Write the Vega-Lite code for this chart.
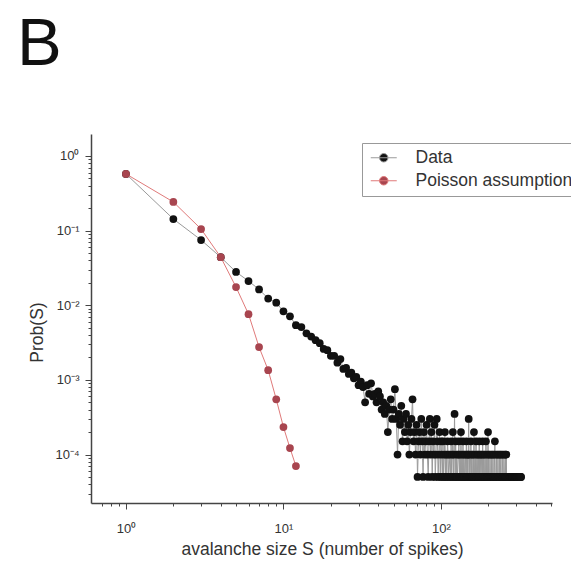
{
"$schema": "https://vega.github.io/schema/vega-lite/v6.json",
"width": 461,
"height": 369,
"autosize": {"type": "none"},
"padding": {"left": 91, "top": 134, "right": 19, "bottom": 61},
"background": "white",
"config": {"view": {"stroke": null}},
"title": {"text": "B", "anchor": "start", "frame": "group", "fontSize": 67, "font": "Liberation Sans", "fontWeight": "normal", "color": "#111111", "dx": -74, "offset": 2, "baseline": "alphabetic"},
"datasets": {
"data": [
{"S":1,"P":0.575},{"S":2,"P":0.143},{"S":3,"P":0.0748},{"S":4,"P":0.044},{"S":5,"P":0.0279},{"S":6,"P":0.0211},{"S":7,"P":0.0163},{"S":8,"P":0.0123},{"S":9,"P":0.0108},{"S":10,"P":0.0083},
{"S":11,"P":0.0071},{"S":12,"P":0.0054},{"S":13,"P":0.0051},{"S":14,"P":0.0042},{"S":15,"P":0.0038},{"S":16,"P":0.0034},{"S":17,"P":0.0031},{"S":18,"P":0.0026},{"S":19,"P":0.0025},{"S":20,"P":0.0021},
{"S":21,"P":0.0021},{"S":22,"P":0.0017},{"S":23,"P":0.0019},{"S":24,"P":0.0014},{"S":25,"P":0.00145},{"S":26,"P":0.0012},{"S":27,"P":0.00125},{"S":28,"P":0.00105},{"S":29,"P":0.0011},{"S":30,"P":0.00085},
{"S":31,"P":0.00095},{"S":32,"P":0.0008},{"S":33,"P":0.0005},{"S":34,"P":0.00085},{"S":35,"P":0.00065},{"S":36,"P":0.0009},{"S":37,"P":0.0006},{"S":38,"P":0.00065},{"S":39,"P":0.0005},{"S":40,"P":0.0007},
{"S":41,"P":0.0006},{"S":42,"P":0.0004},{"S":43,"P":0.0005},{"S":44,"P":0.00035},{"S":45,"P":0.00045},{"S":46,"P":0.0002},{"S":47,"P":0.0004},{"S":48,"P":0.00055},{"S":49,"P":0.0003},{"S":50,"P":0.0004},
{"S":51,"P":0.00075},{"S":52,"P":0.0003},{"S":53,"P":0.0001},{"S":54,"P":0.00035},{"S":55,"P":0.00025},{"S":56,"P":0.00045},{"S":57,"P":0.00015},{"S":58,"P":0.0003},{"S":59,"P":0.0002},{"S":60,"P":0.00035},
{"S":61,"P":0.00015},{"S":62,"P":0.00025},{"S":63,"P":0.0001},{"S":64,"P":0.0002},{"S":65,"P":0.0003},{"S":66,"P":0.00055},{"S":67,"P":0.00015},{"S":68,"P":0.0002},{"S":69,"P":0.0001},{"S":70,"P":0.00025},
{"S":71,"P":0.00005},{"S":72,"P":0.00015},{"S":73,"P":0.0002},{"S":74,"P":0.0001},{"S":75,"P":0.0003},{"S":76,"P":0.00015},{"S":77,"P":0.00005},{"S":78,"P":0.0002},{"S":79,"P":0.0001},{"S":80,"P":0.00015},
{"S":81,"P":0.00025},{"S":82,"P":0.0001},{"S":83,"P":0.00005},{"S":84,"P":0.00015},{"S":85,"P":0.0003},{"S":86,"P":0.0001},{"S":87,"P":0.0002},{"S":88,"P":0.00005},{"S":89,"P":0.00015},{"S":90,"P":0.0001},
{"S":91,"P":0.00025},{"S":92,"P":0.00005},{"S":93,"P":0.0001},{"S":94,"P":0.0003},{"S":95,"P":0.00015},{"S":96,"P":0.00005},{"S":97,"P":0.0001},{"S":98,"P":0.0002},{"S":99,"P":0.00005},{"S":100,"P":0.00015},
{"S":101,"P":0.0001},{"S":102,"P":0.00005},{"S":103,"P":0.00015},{"S":104,"P":0.00005},{"S":105,"P":0.0001},{"S":106,"P":0.0002},{"S":107,"P":0.00005},{"S":108,"P":0.0001},{"S":109,"P":0.00005},{"S":110,"P":0.00015},
{"S":111,"P":0.0001},{"S":112,"P":0.00005},{"S":114,"P":0.0001},{"S":115,"P":0.00005},{"S":116,"P":0.00015},{"S":117,"P":0.00005},{"S":118,"P":0.0001},{"S":119,"P":0.0002},{"S":120,"P":0.00005},
{"S":121,"P":0.0001},{"S":122,"P":0.00035},{"S":123,"P":0.00005},{"S":124,"P":0.00015},{"S":125,"P":0.00005},{"S":126,"P":0.0001},{"S":127,"P":0.00005},{"S":129,"P":0.0001},{"S":130,"P":0.00015},
{"S":131,"P":0.00005},{"S":132,"P":0.0001},{"S":133,"P":0.00005},{"S":134,"P":0.0002},{"S":135,"P":0.00005},{"S":136,"P":0.0001},{"S":137,"P":0.00005},{"S":138,"P":0.00015},{"S":139,"P":0.00005},{"S":140,"P":0.0001},
{"S":141,"P":0.00005},{"S":143,"P":0.0001},{"S":144,"P":0.00005},{"S":145,"P":0.00015},{"S":146,"P":0.00005},{"S":147,"P":0.0001},{"S":148,"P":0.00005},{"S":149,"P":0.0001},{"S":150,"P":0.0003},
{"S":151,"P":0.00005},{"S":152,"P":0.0001},{"S":153,"P":0.00005},{"S":155,"P":0.00015},{"S":156,"P":0.00005},{"S":157,"P":0.0001},{"S":158,"P":0.00005},{"S":159,"P":0.00005},{"S":160,"P":0.0001},
{"S":161,"P":0.00005},{"S":162,"P":0.0002},{"S":163,"P":0.00005},{"S":165,"P":0.0001},{"S":166,"P":0.00005},{"S":167,"P":0.00015},{"S":168,"P":0.00005},{"S":170,"P":0.0001},
{"S":171,"P":0.00005},{"S":172,"P":0.00005},{"S":173,"P":0.0001},{"S":174,"P":0.00005},{"S":175,"P":0.00015},{"S":176,"P":0.00005},{"S":178,"P":0.0001},{"S":179,"P":0.00005},{"S":180,"P":0.00005},
{"S":181,"P":0.0001},{"S":183,"P":0.00005},{"S":184,"P":0.00015},{"S":185,"P":0.00005},{"S":186,"P":0.0001},{"S":187,"P":0.00005},{"S":189,"P":0.00005},{"S":190,"P":0.0001},
{"S":191,"P":0.00005},{"S":192,"P":0.00005},{"S":193,"P":0.00015},{"S":195,"P":0.00005},{"S":196,"P":0.0001},{"S":197,"P":0.00005},{"S":198,"P":0.00005},{"S":199,"P":0.0002},{"S":200,"P":0.00005},
{"S":201,"P":0.0001},{"S":202,"P":0.00005},{"S":204,"P":0.00005},{"S":205,"P":0.0001},{"S":206,"P":0.00005},{"S":208,"P":0.00005},{"S":209,"P":0.00005},{"S":210,"P":0.0001},
{"S":211,"P":0.00005},{"S":213,"P":0.00005},{"S":214,"P":0.0001},{"S":215,"P":0.00005},{"S":216,"P":0.00005},{"S":218,"P":0.00005},{"S":219,"P":0.0001},{"S":220,"P":0.00015},
{"S":221,"P":0.00005},{"S":223,"P":0.00005},{"S":224,"P":0.00005},{"S":225,"P":0.0001},{"S":226,"P":0.00005},{"S":229,"P":0.00005},{"S":230,"P":0.0001},
{"S":231,"P":0.00005},{"S":233,"P":0.00005},{"S":234,"P":0.00005},{"S":235,"P":0.0001},{"S":236,"P":0.00005},{"S":238,"P":0.00005},{"S":240,"P":0.0001},
{"S":241,"P":0.00005},{"S":242,"P":0.00005},{"S":244,"P":0.00005},{"S":245,"P":0.0001},{"S":247,"P":0.00005},{"S":248,"P":0.00005},{"S":250,"P":0.00005},
{"S":251,"P":0.0001},{"S":253,"P":0.00005},{"S":254,"P":0.00005},{"S":256,"P":0.00005},{"S":257,"P":0.0001},{"S":258,"P":0.00005},{"S":260,"P":0.0001},
{"S":261,"P":0.00005},{"S":263,"P":0.00005},{"S":264,"P":0.00005},{"S":266,"P":0.00005},{"S":267,"P":0.00005},{"S":269,"P":0.00005},{"S":270,"P":0.00005},
{"S":272,"P":0.00005},{"S":274,"P":0.00005},{"S":275,"P":0.00005},{"S":277,"P":0.00005},{"S":279,"P":0.00005},{"S":280,"P":0.00005},
{"S":282,"P":0.00005},{"S":284,"P":0.00005},{"S":285,"P":0.00005},{"S":287,"P":0.00005},{"S":289,"P":0.00005},
{"S":291,"P":0.00005},{"S":292,"P":0.00005},{"S":294,"P":0.00005},{"S":296,"P":0.00005},{"S":298,"P":0.00005},{"S":300,"P":0.00005},
{"S":301,"P":0.00005},{"S":303,"P":0.00005},{"S":305,"P":0.00005},{"S":307,"P":0.00005},{"S":309,"P":0.00005},
{"S":311,"P":0.00005},{"S":313,"P":0.00005},{"S":316,"P":0.00005},{"S":318,"P":0.00005},{"S":320,"P":0.00005},{"S":323,"P":0.00005}
],
"poisson": [
{"S":1,"P":0.575},{"S":2,"P":0.242},{"S":3,"P":0.105},{"S":4,"P":0.044},{"S":5,"P":0.0175},{"S":6,"P":0.0076},{"S":7,"P":0.00275},{"S":8,"P":0.00135},{"S":9,"P":0.00055},{"S":10,"P":0.000233},{"S":11,"P":0.000122},{"S":12,"P":0.00007}
]
},
"encoding": {
"x": {"field": "S", "type": "quantitative",
 "scale": {"type": "log", "domain": [0.6, 507], "nice": false},
 "axis": {"title": "avalanche size S (number of spikes)",
  "values": [0.7,0.8,0.9,1,2,3,4,5,6,7,8,9,10,20,30,40,50,60,70,80,90,100,200,300,400,500],
  "labelExpr": "datum.value == 1 ? '10⁰' : datum.value == 10 ? '10¹' : datum.value == 100 ? '10²' : ''",
  "grid": false, "domainColor": "#444444", "domainWidth": 1.5, "tickColor": "#444444", "tickWidth": 1,
  "tickSize": {"condition": {"test": "abs(log(datum.value)/LN10 - round(log(datum.value)/LN10)) < 0.001", "value": 6}, "value": 3},
  "labelFont": "Liberation Sans", "labelFontSize": 13, "labelColor": "#333333", "labelPadding": 13, "labelOverlap": false, "labelFlush": false,
  "titleFont": "Liberation Sans", "titleFontSize": 17.5, "titleFontWeight": "normal", "titleColor": "#333333",
  "titleY": 51, "titleBaseline": "alphabetic", "titleX": 231}},
"y": {"field": "P", "type": "quantitative",
 "scale": {"type": "log", "domain": [0.0000224, 1.97], "nice": false},
 "axis": {"title": "Prob(S)",
  "values": [1,0.9,0.8,0.7,0.6,0.5,0.4,0.3,0.2,0.1,0.09,0.08,0.07,0.06,0.05,0.04,0.03,0.02,0.01,0.009,0.008,0.007,0.006,0.005,0.004,0.003,0.002,0.001,0.0009,0.0008,0.0007,0.0006,0.0005,0.0004,0.0003,0.0002,0.0001,0.00009,0.00008,0.00007,0.00006,0.00005,0.00004,0.00003],
  "labelExpr": "datum.value == 1 ? '10⁰' : datum.value == 0.1 ? '10⁻¹' : datum.value == 0.01 ? '10⁻²' : datum.value == 0.001 ? '10⁻³' : datum.value == 0.0001 ? '10⁻⁴' : ''",
  "grid": false, "domainColor": "#444444", "domainWidth": 1.5, "tickColor": "#444444", "tickWidth": 1,
  "tickSize": {"condition": {"test": "abs(log(datum.value)/LN10 - round(log(datum.value)/LN10)) < 0.001", "value": 6}, "value": 3},
  "labelFont": "Liberation Sans", "labelFontSize": 13, "labelColor": "#333333", "labelPadding": 6, "labelOverlap": false, "labelFlush": false,
  "titleFont": "Liberation Sans", "titleFontSize": 17.5, "titleFontWeight": "normal", "titleColor": "#333333",
  "titleX": -54, "titleY": 198, "titleAngle": -90, "titleAlign": "center", "titleBaseline": "middle"}}
},
"layer": [
{"data": {"name": "data"}, "mark": {"type": "line", "strokeWidth": 1},
 "encoding": {"stroke": {"datum": "Data",
  "scale": {"domain": ["Data", "Poisson assumption"], "range": ["#9a9a9a", "#e07a7a"]},
  "legend": {"title": null, "orient": "none", "legendX": 271, "legendY": 9, "strokeColor": "#999999", "fillColor": "white", "padding": 6,
   "symbolType": "M-2.6,0L2.6,0M-0.85,0A0.85,0.85,0,1,1,0.85,0A0.85,0.85,0,1,1,-0.85,0Z", "symbolSize": 100, "symbolOffset": 7, "symbolStrokeWidth": 1,
   "labelOffset": 23, "labelFont": "Liberation Sans", "labelFontSize": 17.5, "labelColor": "#333333", "rowPadding": 4, "labelLimit": 300}}}},
{"data": {"name": "data"}, "mark": {"type": "point", "filled": true, "size": 60, "opacity": 1},
 "encoding": {"fill": {"datum": "Data",
  "scale": {"domain": ["Data", "Poisson assumption"], "range": ["#111111", "#a8454f"]},
  "legend": {"title": null, "orient": "none", "legendX": 271, "legendY": 9, "strokeColor": "#999999", "fillColor": "white", "padding": 6,
   "symbolType": "M-2.6,0L2.6,0M-0.85,0A0.85,0.85,0,1,1,0.85,0A0.85,0.85,0,1,1,-0.85,0Z", "symbolSize": 100, "symbolOffset": 7, "symbolStrokeWidth": 1,
   "labelOffset": 23, "labelFont": "Liberation Sans", "labelFontSize": 17.5, "labelColor": "#333333", "rowPadding": 4, "labelLimit": 300}}}},
{"data": {"name": "poisson"}, "mark": {"type": "line", "strokeWidth": 1},
 "encoding": {"stroke": {"datum": "Poisson assumption"}}},
{"data": {"name": "poisson"}, "mark": {"type": "point", "filled": true, "size": 60, "opacity": 1},
 "encoding": {"fill": {"datum": "Poisson assumption"}}}
]
}
